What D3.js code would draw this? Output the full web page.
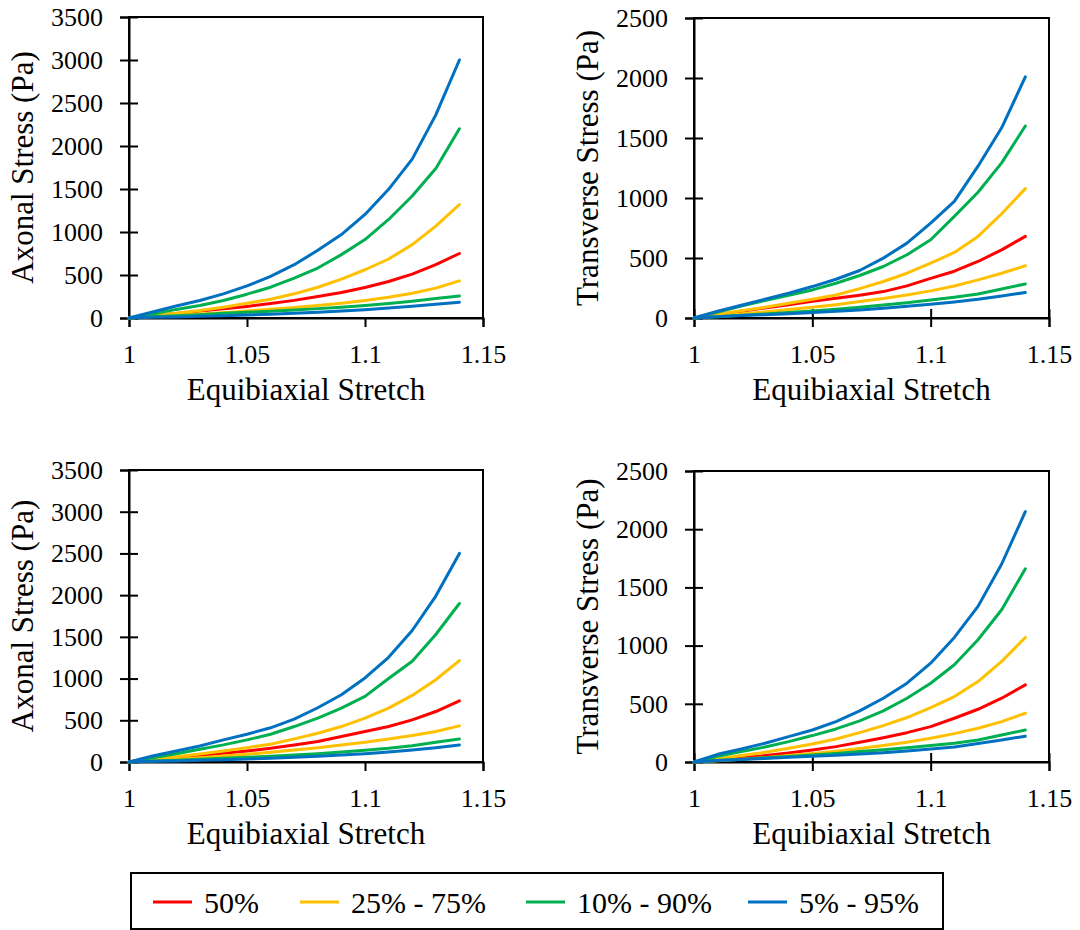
<!DOCTYPE html>
<html>
<head>
<meta charset="utf-8">
<script src="https://cdn.jsdelivr.net/npm/d3@7"></script>
<style>
  body { margin: 0; background: #fff; }
  svg, svg text { font-family: "Liberation Serif", "Times New Roman", serif !important; }
</style>
</head>
<body>
<div id="chart"></div>
<script>
// stretch values (x)
const stretch = [1.00, 1.01, 1.02, 1.03, 1.04, 1.05, 1.06, 1.07, 1.08, 1.09, 1.10, 1.11, 1.12, 1.13, 1.14]

// axonal stress, top panel (Pa)
const axTop_p50 = [0, 25, 52, 80, 108, 135, 168, 205, 249, 296, 355, 425, 510, 620, 750]
const axTop_p25 = [0, 16, 31, 47, 62, 82, 101, 121, 144, 171, 203, 242, 288, 347, 432]
const axTop_p75 = [0, 27, 55, 86, 125, 171, 218, 281, 358, 452, 561, 686, 853, 1068, 1320]
const axTop_p10 = [0, 16, 27, 39, 55, 66, 78, 94, 109, 125, 144, 168, 195, 226, 257]
const axTop_p90 = [0, 47, 100, 145, 203, 277, 358, 464, 581, 737, 912, 1146, 1418, 1738, 2200]
const axTop_p5 = [0, 8, 12, 19, 27, 35, 43, 55, 66, 82, 97, 117, 136, 160, 183]
const axTop_p95 = [0, 70, 140, 203, 281, 374, 483, 620, 787, 970, 1204, 1496, 1847, 2362, 3000]

// transverse stress, top panel (Pa)
const trTop_p50 = [0, 28, 56, 84, 110, 140, 164, 190, 220, 268, 330, 390, 471, 568, 680]
const trTop_p25 = [0, 17, 33, 50, 70, 89, 111, 137, 162, 192, 226, 267, 318, 373, 435]
const trTop_p75 = [0, 31, 61, 89, 123, 156, 192, 245, 304, 373, 457, 546, 680, 869, 1078]
const trTop_p10 = [0, 11, 22, 33, 45, 59, 72, 89, 109, 128, 150, 173, 200, 242, 284]
const trTop_p90 = [0, 50, 100, 145, 189, 234, 290, 354, 429, 527, 652, 847, 1048, 1293, 1600]
const trTop_p5 = [0, 11, 20, 28, 36, 45, 56, 67, 81, 98, 114, 134, 156, 184, 212]
const trTop_p95 = [0, 56, 106, 156, 206, 262, 323, 396, 499, 624, 791, 972, 1265, 1585, 2010]

// axonal stress, bottom panel (Pa)
const axBot_p50 = [0, 24, 52, 76, 104, 132, 164, 205, 245, 305, 365, 425, 505, 605, 734]
const axBot_p25 = [0, 16, 32, 52, 72, 92, 116, 144, 172, 205, 237, 277, 317, 365, 433]
const axBot_p75 = [0, 32, 64, 96, 132, 172, 213, 277, 345, 425, 525, 646, 798, 986, 1215]
const axBot_p10 = [0, 12, 20, 32, 44, 56, 68, 84, 100, 120, 140, 164, 196, 237, 277]
const axBot_p90 = [0, 52, 100, 152, 205, 265, 333, 425, 525, 646, 786, 1000, 1207, 1528, 1900]
const axBot_p5 = [0, 8, 12, 20, 28, 36, 44, 56, 68, 84, 100, 120, 144, 172, 205]
const axBot_p95 = [0, 72, 132, 192, 265, 333, 410, 515, 650, 806, 1007, 1255, 1576, 1989, 2500]

// transverse stress, bottom panel (Pa)
const trBot_p50 = [0, 17, 34, 55, 77, 103, 132, 169, 209, 252, 304, 376, 453, 548, 663]
const trBot_p25 = [0, 11, 23, 37, 55, 72, 92, 115, 141, 169, 204, 244, 290, 347, 419]
const trBot_p75 = [0, 26, 55, 83, 118, 155, 198, 252, 313, 382, 468, 562, 691, 864, 1070]
const trBot_p10 = [0, 12, 24, 36, 48, 60, 74, 90, 106, 123, 141, 161, 189, 232, 275]
const trBot_p90 = [0, 49, 89, 129, 175, 227, 284, 353, 439, 548, 677, 835, 1050, 1308, 1660]
const trBot_p5 = [0, 12, 22, 31, 40, 49, 57, 69, 80, 95, 112, 129, 158, 189, 222]
const trBot_p95 = [0, 66, 112, 161, 218, 275, 347, 439, 548, 677, 849, 1070, 1337, 1701, 2150]

const xTicks = [1, 1.05, 1.1, 1.15]
const axonalTicks = [0, 500, 1000, 1500, 2000, 2500, 3000, 3500]
const transTicks = [0, 500, 1000, 1500, 2000, 2500]

const legendLabels = ["50%", "25% - 75%", "10% - 90%", "5% - 95%"]
const COLORS = { p50: "#ff0000", p25: "#ffc000", p10: "#00b050", p5: "#0070c0" }

const W = 1080, H = 930
const SERIF = '"Liberation Serif", "Times New Roman", serif'

const svg = d3.select("#chart").append("svg")
    .attr("width", W)
    .attr("height", H)

function panel(opts) {
    const { left, right, top, bottom, yMax, yTicks, yTitle, series, crossX } = opts

    const x = d3.scaleLinear().domain([1, 1.15]).range([left, right])
    const y = d3.scaleLinear().domain([0, yMax]).range([bottom, top])

    const g = svg.append("g")

    // plot frame
    g.append("rect")
        .attr("x", left)
        .attr("y", top)
        .attr("width", right - left)
        .attr("height", bottom - top)
        .attr("fill", "none")
        .attr("stroke", "#000")
        .attr("stroke-width", 2)

    // y axis
    const yAxis = g.append("g")
        .attr("transform", `translate(${left},0)`)
        .call(d3.axisLeft(y).tickValues(yTicks).tickSize(9).tickPadding(17).tickFormat(d3.format("d")))
    yAxis.attr("font-family", null).attr("font-size", null)
    yAxis.select(".domain").attr("stroke-width", 2)
    yAxis.selectAll(".tick line").attr("x1", 9).attr("stroke-width", 2)
    yAxis.selectAll(".tick text")
        .style("font-size", "26px")
        .style("font-family", SERIF)
        .attr("fill", "#000")

    // x axis
    const xAxis = g.append("g")
        .attr("transform", `translate(0,${bottom})`)
        .call(d3.axisBottom(x).tickValues(xTicks).tickSize(9).tickPadding(18).tickFormat(d => String(+d.toFixed(2))))
    xAxis.attr("font-family", null).attr("font-size", null)
    xAxis.select(".domain").attr("stroke-width", 2)
    xAxis.selectAll(".tick line").attr("stroke-width", 2)
    if (crossX) xAxis.selectAll(".tick line").attr("y1", -9)
    xAxis.selectAll(".tick text")
        .style("font-size", "26px")
        .style("font-family", SERIF)
        .attr("fill", "#000")

    // axis titles
    g.append("text")
        .attr("x", (left + right) / 2)
        .attr("y", bottom + 82)
        .attr("text-anchor", "middle")
        .style("font-size", "31px")
        .text("Equibiaxial Stretch")

    g.append("text")
        .attr("transform", `translate(${left - 96},${(top + bottom) / 2}) rotate(-90)`)
        .attr("text-anchor", "middle")
        .style("font-size", "31px")
        .text(yTitle)

    const line = d3.line()
        .x((d, i) => x(stretch[i]))
        .y(d => y(d))

    g.selectAll("path.series")
        .data(series)
        .enter().append("path")
        .attr("class", "series")
        .attr("d", d => line(d.values))
        .attr("fill", "none")
        .attr("stroke", d => d.color)
        .attr("stroke-width", 3)
        .attr("stroke-linejoin", "round")
        .attr("stroke-linecap", "round")
}

function makeSeries(p50, p25, p75, p10, p90, p5, p95) {
    return [
        { values: p50, color: COLORS.p50 },
        { values: p25, color: COLORS.p25 },
        { values: p75, color: COLORS.p25 },
        { values: p10, color: COLORS.p10 },
        { values: p90, color: COLORS.p10 },
        { values: p5, color: COLORS.p5 },
        { values: p95, color: COLORS.p5 }
    ]
}

panel({
    left: 129, right: 483, top: 17, bottom: 318,
    yMax: 3500, yTicks: axonalTicks, yTitle: "Axonal Stress (Pa)", crossX: false,
    series: makeSeries(axTop_p50, axTop_p25, axTop_p75, axTop_p10, axTop_p90, axTop_p5, axTop_p95)
})
panel({
    left: 694, right: 1049, top: 18, bottom: 318,
    yMax: 2500, yTicks: transTicks, yTitle: "Transverse Stress (Pa)", crossX: true,
    series: makeSeries(trTop_p50, trTop_p25, trTop_p75, trTop_p10, trTop_p90, trTop_p5, trTop_p95)
})
panel({
    left: 129, right: 483, top: 470, bottom: 762,
    yMax: 3500, yTicks: axonalTicks, yTitle: "Axonal Stress (Pa)", crossX: false,
    series: makeSeries(axBot_p50, axBot_p25, axBot_p75, axBot_p10, axBot_p90, axBot_p5, axBot_p95)
})
panel({
    left: 694, right: 1049, top: 471, bottom: 762,
    yMax: 2500, yTicks: transTicks, yTitle: "Transverse Stress (Pa)", crossX: true,
    series: makeSeries(trBot_p50, trBot_p25, trBot_p75, trBot_p10, trBot_p90, trBot_p5, trBot_p95)
})

// legend
const legend = svg.append("g")
legend.append("rect")
    .attr("x", 131)
    .attr("y", 873)
    .attr("width", 812)
    .attr("height", 56)
    .attr("fill", "#fff")
    .attr("stroke", "#000")
    .attr("stroke-width", 2)

const legendColors = [COLORS.p50, COLORS.p25, COLORS.p10, COLORS.p5]
const legendX = [153, 300, 526, 748]

const items = legend.selectAll("g.item")
    .data(legendLabels)
    .enter().append("g")
    .attr("class", "item")
    .attr("transform", (d, i) => `translate(${legendX[i]},902)`)

items.append("line")
    .attr("x1", 0).attr("x2", 39)
    .attr("stroke", (d, i) => legendColors[i])
    .attr("stroke-width", 3)

items.append("text")
    .attr("x", 51)
    .attr("y", 11)
    .style("font-size", "30px")
    .text(d => d)
</script>
</body>
</html>
